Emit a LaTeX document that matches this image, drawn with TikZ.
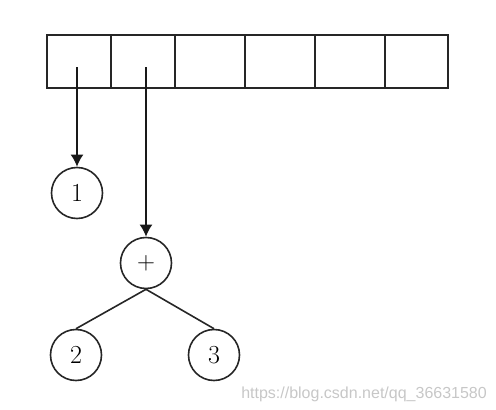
\documentclass[tikz,border=0pt]{standalone}
\usepackage{fontspec}
\newfontfamily\wmfont{Liberation Sans}
\usetikzlibrary{arrows.meta}
\begin{document}
\begin{tikzpicture}[x=1pt,y=-1pt,
  cellbox/.style={draw=black!85,line width=1.7pt,minimum height=53pt,inner sep=0pt,outer sep=0pt,anchor=north west},
  circ/.style={draw=black!85,circle,line width=1.6pt,minimum size=51pt,inner sep=0pt,font=\fontsize{26}{30}\selectfont},
  arr/.style={line width=1.7pt,draw=black!90,-{Latex[length=12pt,width=13pt]}},
  edge/.style={line width=1.6pt,draw=black!85}]
\useasboundingbox (0,0) rectangle (496,410);
\node[cellbox,minimum width=64pt] (c1) at (47,35) {};
\node[cellbox,minimum width=64pt] (c2) at (111,35) {};
\node[cellbox,minimum width=70pt] (c3) at (175,35) {};
\node[cellbox,minimum width=70pt] (c4) at (245,35) {};
\node[cellbox,minimum width=70pt] (c5) at (315,35) {};
\node[cellbox,minimum width=63pt] (c6) at (385,35) {};
\coordinate (s1) at (77,67);
\coordinate (s2) at (146,67);
\node[circ] (n1) at (77,193) {1};
\node[circ] (np) at (146,263) {$+$};
\node[circ] (n2) at (76,355) {2};
\node[circ] (n3) at (214,355) {3};
\draw[arr] (s1) -- (n1.north);
\draw[arr] (s2) -- (np.north);
\draw[edge] (np.south) -- (n2.north);
\draw[edge] (np.south) -- (n3.north);
\node[anchor=base east,text=black!22,font=\wmfont\fontsize{16}{19}\selectfont,inner sep=0pt] (wm) at (487,398) {https://blog.csdn.net/qq\_36631580};
\end{tikzpicture}
\end{document}
